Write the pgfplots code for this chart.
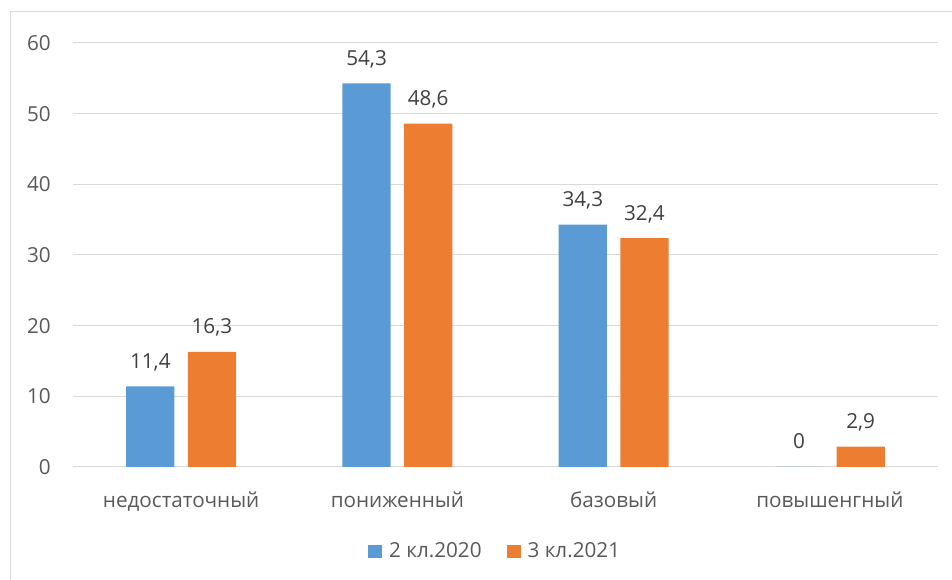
\documentclass[border=0pt]{standalone}
\usepackage{pgfplots}
\pgfplotsset{compat=1.18}
\usepackage{fontspec}
\setmainfont{Open Sans}
\definecolor{cblue}{HTML}{5B9BD5}
\definecolor{corange}{HTML}{ED7D31}
\definecolor{cgrid}{HTML}{D9D9D9}
\definecolor{ctext}{HTML}{595959}
\definecolor{clab}{HTML}{404040}
\begin{document}
\begin{tikzpicture}
\useasboundingbox (0,0) rectangle (714bp,435bp);
\draw[cgrid, line width=0.75bp] (7.5bp,0) -- (7.5bp,426bp) -- (714bp,426bp);
\begin{axis}[
  at={(54.75bp,84.75bp)}, anchor=south west,
  scale only axis, width=648.75bp, height=318bp,
  xmin=-0.5, xmax=3.5, ymin=0, ymax=60,
  ytick={0,10,20,30,40,50,60},
  xtick={0,1,2,3},
  xticklabels={недостаточный, пониженный, базовый, повышенгный},
  ybar=10bp, bar width=36.2bp,
  ymajorgrids, grid style={cgrid, line width=0.75bp},
  axis line style={draw=none}, tick style={draw=none},
  /pgf/number format/assume math mode=true,
  ticklabel style={font=\fontsize{15.5bp}{17bp}\selectfont, text=ctext},
  yticklabel style={anchor=east, inner sep=0pt, xshift=-16.5bp},
  xticklabel style={anchor=base, inner sep=0pt, yshift=-26bp},
  nodes near coords,
  nodes near coords style={font=\fontsize{15.5bp}{17bp}\selectfont, text=clab, anchor=base, inner sep=0pt, yshift=13.5bp,
    /pgf/number format/.cd, use comma, fixed, precision=1, assume math mode=true},
  legend columns=2,
  legend style={at={(0.487,-0.197)}, anchor=center, draw=none, fill=none,
    font=\fontsize{15.5bp}{17bp}\selectfont, text=ctext,
    nodes={inner sep=0pt},
    /tikz/every even column/.append style={column sep=19bp}},
  legend image code/.code={\fill[#1] (0bp,-5.25bp) rectangle (10.5bp,4bp); \path (15.5bp,0bp);},
]
\addplot[fill=cblue, draw=none] coordinates {(0,11.4) (1,54.3) (2,34.3) (3,0)};
\addplot[fill=corange, draw=none] coordinates {(0,16.3) (1,48.6) (2,32.4) (3,2.9)};
\legend{2 кл.2020, 3 кл.2021}
\end{axis}
\end{tikzpicture}
\end{document}
